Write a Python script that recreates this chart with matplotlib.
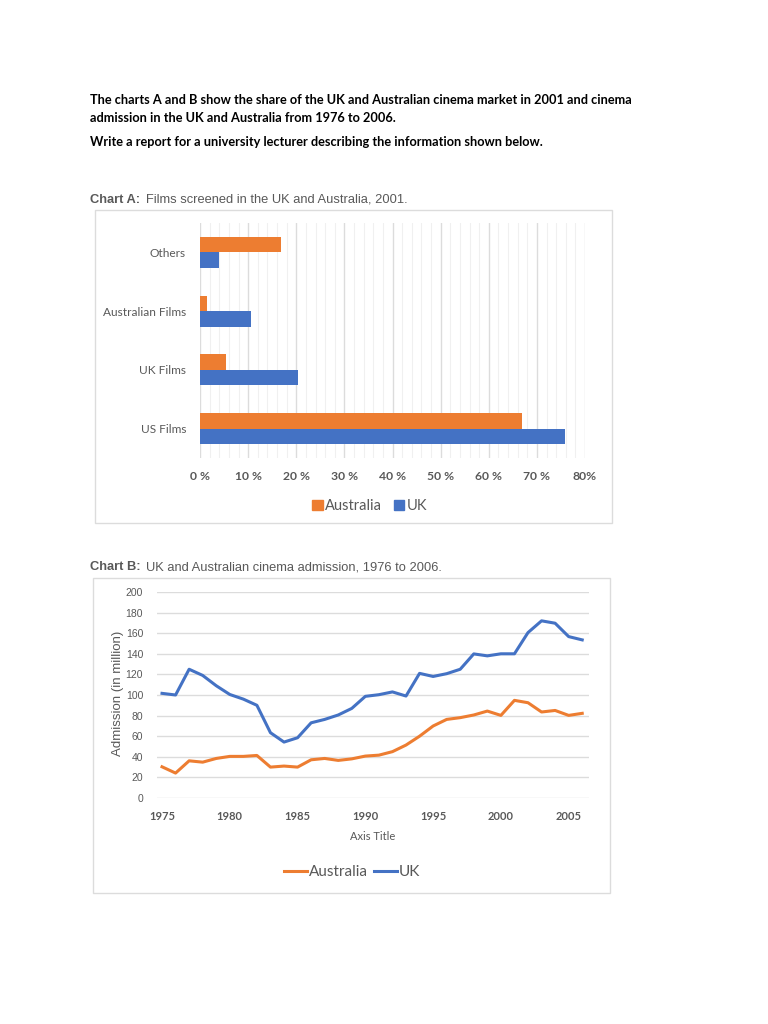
import matplotlib
matplotlib.use("Agg")
import matplotlib.pyplot as plt
from matplotlib.patches import Rectangle
from matplotlib.lines import Line2D
import numpy as np

# ---------------- data ----------------
categories = ["US Films", "UK Films", "Australian Films", "Others"]
share_australia = [67.0, 5.5, 1.4, 16.9]
share_uk = [75.8, 20.3, 10.5, 3.9]
pct_tick_labels = ["0 %", "10 %", "20 %", "30 %", "40 %", "50 %", "60 %", "70 %", "80%"]

years = list(range(1975, 2007))
adm_uk = [101.6, 100, 125, 119, 109, 100.5, 96, 90, 63.4, 54.3, 58.5, 73, 76.3, 80.6, 87, 98.7,
          100.3, 103, 99, 121, 118, 120.7, 125, 139.9, 138, 140, 140, 160.6, 172, 169.7, 156.7, 153.5]
adm_aus = [30.3, 24.2, 36.1, 34.8, 38.4, 40.4, 40.4, 41.3, 30, 31, 30, 37.1, 38.4, 36.5, 38, 40.7,
           41.6, 45, 51.4, 60, 69.9, 76.3, 78, 80.6, 84.4, 80.2, 94.8, 92.5, 83.5, 85, 80.2, 82.2]

ORANGE = "#ED7D31"
BLUE = "#4472C4"
GREY = "#595959"
GRID = "#DCDCDC"
CAL = ["Lato", "DejaVu Sans"]
ARIAL = ["Liberation Sans", "DejaVu Sans"]

W, H = 768, 1024
fig = plt.figure(figsize=(W / 100, H / 100), dpi=100)
fig.patch.set_facecolor("white")

def fx(px):
    return px / W

def fy(py):
    return 1 - py / H

# ---------------- header ----------------
for ypix, line in [(100, "The charts A and B show the share of the UK and Australian cinema market in 2001 and cinema"),
                   (118, "admission in the UK and Australia from 1976 to 2006."),
                   (142, "Write a report for a university lecturer describing the information shown below.")]:
    fig.text(fx(90), fy(ypix), line, fontsize=9.2, fontweight="bold", family=CAL, va="center", ha="left",
             color="black")

# ---------------- chart A ----------------
fig.text(fx(90), fy(200), "Chart A:", fontsize=9.3, fontweight="bold", family=ARIAL, color=GREY, va="center")
fig.text(fx(146), fy(200), "Films screened in the UK and Australia, 2001.", fontsize=9.3, family=ARIAL,
         color=GREY, va="center")
fig.add_artist(Rectangle((fx(95), fy(523)), fx(612) - fx(95), fy(210) - fy(523), transform=fig.transFigure,
                         fill=False, edgecolor=GRID, linewidth=1))

axA = fig.add_axes([fx(200), fy(458), fx(585) - fx(200), fy(223) - fy(458)])
ypos = np.arange(len(categories))
h = 0.265
axA.barh(ypos + h / 2, share_australia, height=h, color=ORANGE, label="Australia", zorder=3)
axA.barh(ypos - h / 2, share_uk, height=h, color=BLUE, label="UK", zorder=3)
axA.set_xlim(0, 80)
axA.set_ylim(-0.5, len(categories) - 0.5)
axA.set_xticks(np.arange(0, 81, 10))
axA.set_xticks(np.arange(0, 81, 2), minor=True)
axA.set_xticklabels(pct_tick_labels, family=CAL, fontsize=8.7, fontweight="bold", color=GREY)
axA.set_yticks(ypos)
axA.set_yticklabels(categories, family=CAL, fontsize=8.6, color=GREY)
axA.grid(axis="x", which="major", color=GRID, linewidth=1, zorder=0)
axA.grid(axis="x", which="minor", color="#F0F0F0", linewidth=0.8, zorder=0)
axA.tick_params(axis="both", which="both", length=0)
axA.tick_params(axis="x", pad=9)
axA.tick_params(axis="y", pad=10)
for s in axA.spines.values():
    s.set_visible(False)
legA = fig.legend(handles=[Rectangle((0, 0), 1, 1, color=ORANGE), Rectangle((0, 0), 1, 1, color=BLUE)],
                  labels=["Australia", "UK"], loc="center", bbox_to_anchor=(fx(370), fy(506)), ncol=2,
                  frameon=False, handlelength=0.7, handleheight=0.7, handletextpad=0.2, columnspacing=0.8,
                  prop={"family": CAL, "size": 10.5})
for t in legA.get_texts():
    t.set_color(GREY)

# ---------------- chart B ----------------
fig.text(fx(90), fy(567), "Chart B:", fontsize=9.3, fontweight="bold", family=ARIAL, color=GREY, va="center")
fig.text(fx(146), fy(567), "UK and Australian cinema admission, 1976 to 2006.", fontsize=9.3, family=ARIAL,
         color=GREY, va="center")
fig.add_artist(Rectangle((fx(93), fy(893)), fx(610) - fx(93), fy(578) - fy(893), transform=fig.transFigure,
                         fill=False, edgecolor=GRID, linewidth=1))

axB = fig.add_axes([fx(157), fy(798), fx(589) - fx(157), fy(592) - fy(798)])
axB.plot(years, adm_aus, color=ORANGE, linewidth=2.2, label="Australia", zorder=3)
axB.plot(years, adm_uk, color=BLUE, linewidth=2.2, label="UK", zorder=3)
axB.set_ylim(0, 200)
axB.set_xlim(1974.63, 2006.5)
axB.set_yticks(np.arange(0, 201, 20))
axB.set_xticks(np.arange(1975, 2006, 5))
axB.grid(axis="y", color=GRID, linewidth=1, zorder=0)
axB.tick_params(axis="both", length=0)
axB.tick_params(axis="y", pad=10)
axB.tick_params(axis="x", pad=9)
for lab in axB.get_yticklabels():
    lab.set_family(ARIAL); lab.set_fontsize(7.5); lab.set_color(GREY)
for lab in axB.get_xticklabels():
    lab.set_family(CAL); lab.set_fontsize(8); lab.set_fontweight("bold"); lab.set_color(GREY)
for s in axB.spines.values():
    s.set_visible(False)
fig.text(fx(118), fy(693), "Admission (in million)", rotation=90, family=ARIAL, fontsize=9.5, color=GREY,
         ha="center", va="center")
fig.text(fx(373), fy(836), "Axis Title", family=CAL, fontsize=8, color=GREY, ha="center", va="center")
legB = fig.legend(handles=[Line2D([], [], color=ORANGE, linewidth=2.2), Line2D([], [], color=BLUE, linewidth=2.2)],
                  labels=["Australia", "UK"], loc="center", bbox_to_anchor=(fx(352), fy(872)), ncol=2,
                  frameon=False, handlelength=1.5, handletextpad=0.1, columnspacing=0.4,
                  prop={"family": CAL, "size": 11})
for t in legB.get_texts():
    t.set_color(GREY)

fig.savefig("out.png", dpi=100, facecolor="white")
